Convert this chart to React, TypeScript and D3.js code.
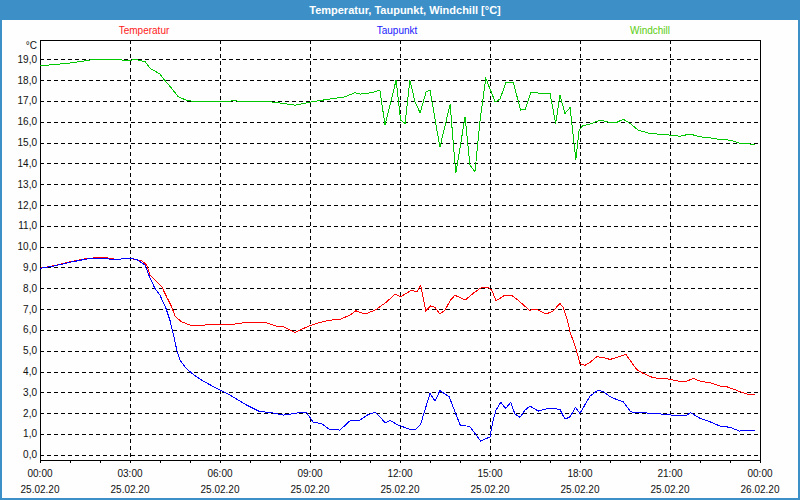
import { useEffect, useRef } from "react";
import * as d3 from "d3";

const TITLE = "Temperatur, Taupunkt, Windchill [°C]";
const SERIES_NAMES = ["Temperatur", "Taupunkt", "Windchill"];
const SERIES_COLORS = ["#ff0000", "#0000ff", "#00c800"];
const LEGEND_COLORS = ["#ff1a1a", "#1a1aff", "#5ccc10"];

const Y_TICKS = d3.range(0, 20);
const X_HOURS = d3.range(0, 25);
const X_LABEL_HOURS = [0, 3, 6, 9, 12, 15, 18, 21, 24];
const TIME_LABELS = ["00:00", "03:00", "06:00", "09:00", "12:00", "15:00", "18:00", "21:00", "00:00"];
const DATE_LABELS = ["25.02.20", "25.02.20", "25.02.20", "25.02.20", "25.02.20", "25.02.20", "25.02.20", "25.02.20", "26.02.20"];

const TEMP_HOURS = [0, 0.5, 1.0, 1.6, 2.1, 2.56, 3.0, 3.39, 3.56, 3.67, 4.06, 4.22, 4.39, 4.5, 4.72, 5.0, 5.44, 5.89, 6.44, 6.78, 7.56, 7.89, 8.11, 8.5, 8.78, 9.0, 9.33, 9.67, 10.0, 10.33, 10.53, 10.83, 11.17, 11.56, 11.83, 12.02, 12.39, 12.56, 12.69, 12.86, 13.02, 13.17, 13.33, 13.5, 13.67, 13.83, 14.17, 14.44, 14.72, 14.94, 15.06, 15.2, 15.5, 15.72, 16.0, 16.31, 16.56, 16.87, 17.11, 17.33, 17.44, 17.58, 17.67, 17.87, 18.0, 18.17, 18.33, 18.56, 18.78, 19.0, 19.22, 19.53, 19.89, 20.11, 20.44, 20.94, 21.28, 21.56, 21.78, 22.0, 22.33, 22.67, 22.89, 23.11, 23.33, 23.56, 23.83];
const TEMP_VALUES = [8.96, 9.1, 9.27, 9.44, 9.49, 9.39, 9.44, 9.32, 9.12, 8.64, 8.07, 7.59, 7.11, 6.66, 6.39, 6.23, 6.23, 6.28, 6.27, 6.34, 6.34, 6.18, 6.15, 5.88, 6.07, 6.2, 6.36, 6.47, 6.51, 6.71, 6.92, 6.76, 6.95, 7.35, 7.72, 7.59, 7.91, 7.83, 8.15, 6.92, 7.16, 7.08, 6.76, 6.95, 7.4, 7.67, 7.43, 7.76, 8.04, 8.04, 7.91, 7.4, 7.67, 7.67, 7.35, 6.95, 6.99, 6.76, 6.92, 7.27, 7.08, 6.47, 5.9, 5.07, 4.38, 4.3, 4.44, 4.71, 4.68, 4.58, 4.68, 4.82, 4.1, 3.91, 3.7, 3.64, 3.54, 3.54, 3.67, 3.54, 3.46, 3.3, 3.27, 3.16, 3.03, 2.92, 2.9];

const DEW_HOURS = [0, 0.5, 1.0, 1.6, 2.1, 2.56, 3.0, 3.22, 3.5, 3.67, 3.83, 4.0, 4.2, 4.33, 4.44, 4.56, 4.67, 4.83, 5.06, 5.44, 5.89, 6.33, 6.89, 7.33, 7.67, 8.11, 8.5, 8.72, 8.89, 9.11, 9.39, 9.67, 10.0, 10.33, 10.67, 10.91, 11.17, 11.31, 11.5, 11.67, 11.94, 12.3, 12.53, 12.69, 13.0, 13.17, 13.33, 13.64, 13.83, 14.02, 14.31, 14.5, 14.69, 15.0, 15.08, 15.2, 15.36, 15.52, 15.69, 15.83, 16.0, 16.17, 16.33, 16.61, 17.0, 17.33, 17.5, 17.67, 17.85, 18.0, 18.33, 18.61, 18.78, 19.0, 19.22, 19.44, 19.69, 19.89, 20.22, 20.33, 20.5, 21.06, 21.56, 21.69, 22.0, 22.28, 22.67, 23.0, 23.31, 23.47, 23.83];
const DEW_VALUES = [8.96, 9.08, 9.25, 9.42, 9.42, 9.39, 9.44, 9.39, 9.12, 8.48, 8.0, 7.67, 7.03, 6.47, 5.83, 5.03, 4.55, 4.23, 3.91, 3.54, 3.19, 2.87, 2.39, 2.07, 2.04, 1.91, 1.99, 2.05, 2.02, 1.56, 1.5, 1.2, 1.19, 1.63, 1.67, 1.91, 2.04, 1.86, 1.54, 1.65, 1.43, 1.24, 1.22, 1.48, 2.95, 2.58, 3.08, 2.79, 2.07, 1.39, 1.38, 1.03, 0.66, 0.86, 1.51, 2.15, 2.52, 2.23, 2.52, 1.96, 1.8, 2.15, 2.34, 2.1, 2.25, 2.18, 1.71, 1.83, 2.28, 1.99, 2.82, 3.11, 3.03, 2.79, 2.66, 2.55, 2.07, 2.02, 2.02, 1.96, 1.99, 1.91, 1.91, 2.02, 1.75, 1.62, 1.38, 1.32, 1.14, 1.19, 1.19];

const CHILL_HOURS = [0, 0.94, 1.5, 1.83, 2.6, 2.93, 3.17, 3.5, 3.67, 4.0, 4.11, 4.39, 4.61, 4.94, 5.5, 6.5, 7.6, 8.5, 9.06, 9.6, 10.17, 10.5, 10.67, 11.1, 11.33, 11.5, 11.87, 12.02, 12.17, 12.33, 12.5, 12.67, 12.87, 13.0, 13.33, 13.67, 13.86, 14.17, 14.33, 14.5, 14.67, 14.86, 15.17, 15.33, 15.53, 15.78, 16.02, 16.17, 16.36, 16.72, 17.0, 17.19, 17.33, 17.5, 17.67, 17.86, 17.97, 18.08, 18.33, 18.67, 19.0, 19.22, 19.44, 19.67, 19.94, 20.33, 21.0, 21.33, 21.67, 22.0, 22.33, 22.67, 23.0, 23.33, 23.83];
const CHILL_VALUES = [18.69, 18.81, 18.93, 19.0, 19.0, 18.93, 19.0, 18.89, 18.57, 18.29, 18.08, 17.6, 17.2, 17.0, 16.99, 17.0, 16.98, 16.8, 16.96, 17.08, 17.2, 17.4, 17.33, 17.41, 17.52, 15.84, 18.0, 16.08, 15.92, 18.0, 16.96, 16.43, 17.44, 17.53, 14.77, 16.84, 13.52, 16.24, 13.92, 13.6, 16.08, 18.09, 16.96, 17.08, 17.88, 17.88, 16.56, 16.6, 17.41, 17.37, 17.37, 15.92, 17.28, 16.4, 16.69, 14.19, 15.6, 15.8, 15.89, 16.08, 15.97, 15.97, 16.12, 15.92, 15.6, 15.44, 15.36, 15.31, 15.41, 15.28, 15.23, 15.15, 15.12, 14.96, 14.92];

const FONT = "'Liberation Sans', Arial, sans-serif";

export default function App() {
  const ref = useRef<SVGSVGElement | null>(null);

  useEffect(() => {
    if (!ref.current) {
      return;
    }
    const svg = d3.select(ref.current);
    svg.selectAll("*").remove();

    const width = 800;
    const height = 500;
    const plot = { left: 40, right: 760, top: 40, bottom: 460 };
    const frameColor = "#3c8fc7";

    const x = d3.scaleLinear().domain([0, 24]).range([plot.left, plot.right]);
    const y = d3.scaleLinear().domain([-0.25, 19.93]).range([plot.bottom, plot.top]);
    const px = (v: number) => Math.round(v) + 0.5;

    svg.attr("viewBox", `0 0 ${width} ${height}`);

    svg.append("rect").attr("width", width).attr("height", height).attr("fill", "#fdfefd");

    // title bar
    svg.append("rect").attr("width", width).attr("height", 20).attr("fill", frameColor);
    svg
      .append("text")
      .text(TITLE)
      .attr("x", 405)
      .attr("y", 13.5)
      .attr("text-anchor", "middle")
      .attr("font-family", FONT)
      .attr("font-weight", "bold")
      .attr("font-size", 11)
      .attr("fill", "#ffffff");

    // window frame
    svg
      .append("rect")
      .attr("x", 1)
      .attr("y", 1)
      .attr("width", width - 2)
      .attr("height", height - 2)
      .attr("fill", "none")
      .attr("stroke", frameColor)
      .attr("stroke-width", 2);

    // legend
    const legendX = [144, 397, 650];
    svg
      .append("g")
      .selectAll("text")
      .data(SERIES_NAMES)
      .enter()
      .append("text")
      .text((d) => d)
      .attr("x", (_, i) => legendX[i])
      .attr("y", 34)
      .attr("text-anchor", "middle")
      .attr("font-family", FONT)
      .attr("font-size", 10)
      .attr("fill", (_, i) => LEGEND_COLORS[i]);

    // grid
    const grid = svg.append("g").attr("shape-rendering", "crispEdges");
    grid
      .selectAll("line.h")
      .data(Y_TICKS)
      .enter()
      .append("line")
      .attr("x1", plot.left)
      .attr("x2", plot.right)
      .attr("y1", (d) => px(y(d)))
      .attr("y2", (d) => px(y(d)))
      .attr("stroke", "#000")
      .attr("stroke-dasharray", "4,3");
    grid
      .selectAll("line.v")
      .data(X_LABEL_HOURS.slice(1, -1))
      .enter()
      .append("line")
      .attr("x1", (d) => px(x(d)))
      .attr("x2", (d) => px(x(d)))
      .attr("y1", plot.top)
      .attr("y2", plot.bottom)
      .attr("stroke", "#000")
      .attr("stroke-dasharray", "4,3");

    // y labels
    const fmt = d3.format(".1f");
    svg
      .append("g")
      .selectAll("text")
      .data(Y_TICKS)
      .enter()
      .append("text")
      .text((d) => fmt(d).replace(".", ","))
      .attr("x", 37)
      .attr("y", (d) => y(d) + 3.5)
      .attr("text-anchor", "end")
      .attr("font-family", FONT)
      .attr("font-size", 10)
      .attr("fill", "#111");
    svg
      .append("text")
      .text("°C")
      .attr("x", 37)
      .attr("y", 48.5)
      .attr("text-anchor", "end")
      .attr("font-family", FONT)
      .attr("font-size", 10)
      .attr("fill", "#111");

    // x ticks + labels
    svg
      .append("g")
      .attr("shape-rendering", "crispEdges")
      .selectAll("line")
      .data(X_HOURS)
      .enter()
      .append("line")
      .attr("x1", (d) => px(x(d)))
      .attr("x2", (d) => px(x(d)))
      .attr("y1", plot.bottom)
      .attr("y2", plot.bottom + 3)
      .attr("stroke", "#000");

    const xl = svg.append("g").attr("font-family", FONT).attr("font-size", 10).attr("fill", "#111");
    xl.selectAll("text.time")
      .data(X_LABEL_HOURS)
      .enter()
      .append("text")
      .text((_, i) => TIME_LABELS[i])
      .attr("x", (d) => x(d))
      .attr("y", 477)
      .attr("text-anchor", "middle");
    xl.selectAll("text.date")
      .data(X_LABEL_HOURS)
      .enter()
      .append("text")
      .text((_, i) => DATE_LABELS[i])
      .attr("x", (d) => x(d))
      .attr("y", 492.5)
      .attr("text-anchor", "middle");

    // plot box
    svg
      .append("rect")
      .attr("x", plot.left + 0.5)
      .attr("y", plot.top + 0.5)
      .attr("width", plot.right - plot.left)
      .attr("height", plot.bottom - plot.top)
      .attr("fill", "none")
      .attr("stroke", "#000")
      .attr("shape-rendering", "crispEdges");

    // series
    const series = [
      { hours: TEMP_HOURS, values: TEMP_VALUES },
      { hours: DEW_HOURS, values: DEW_VALUES },
      { hours: CHILL_HOURS, values: CHILL_VALUES },
    ];
    const line = d3
      .line<[number, number]>()
      .x((d) => x(d[0]))
      .y((d) => y(d[1]));

    series.forEach((s, i) => {
      const pts = s.hours.map((h, j) => [h, s.values[j]] as [number, number]);
      svg
        .append("path")
        .attr("d", line(pts))
        .attr("fill", "none")
        .attr("stroke", SERIES_COLORS[i])
        .attr("stroke-width", 1)
        .attr("shape-rendering", "crispEdges");
    });
  }, []);

  return (
    <svg
      ref={ref}
      width={800}
      height={500}
      style={{ position: "fixed", left: 0, top: 0, display: "block" }}
    />
  );
}
